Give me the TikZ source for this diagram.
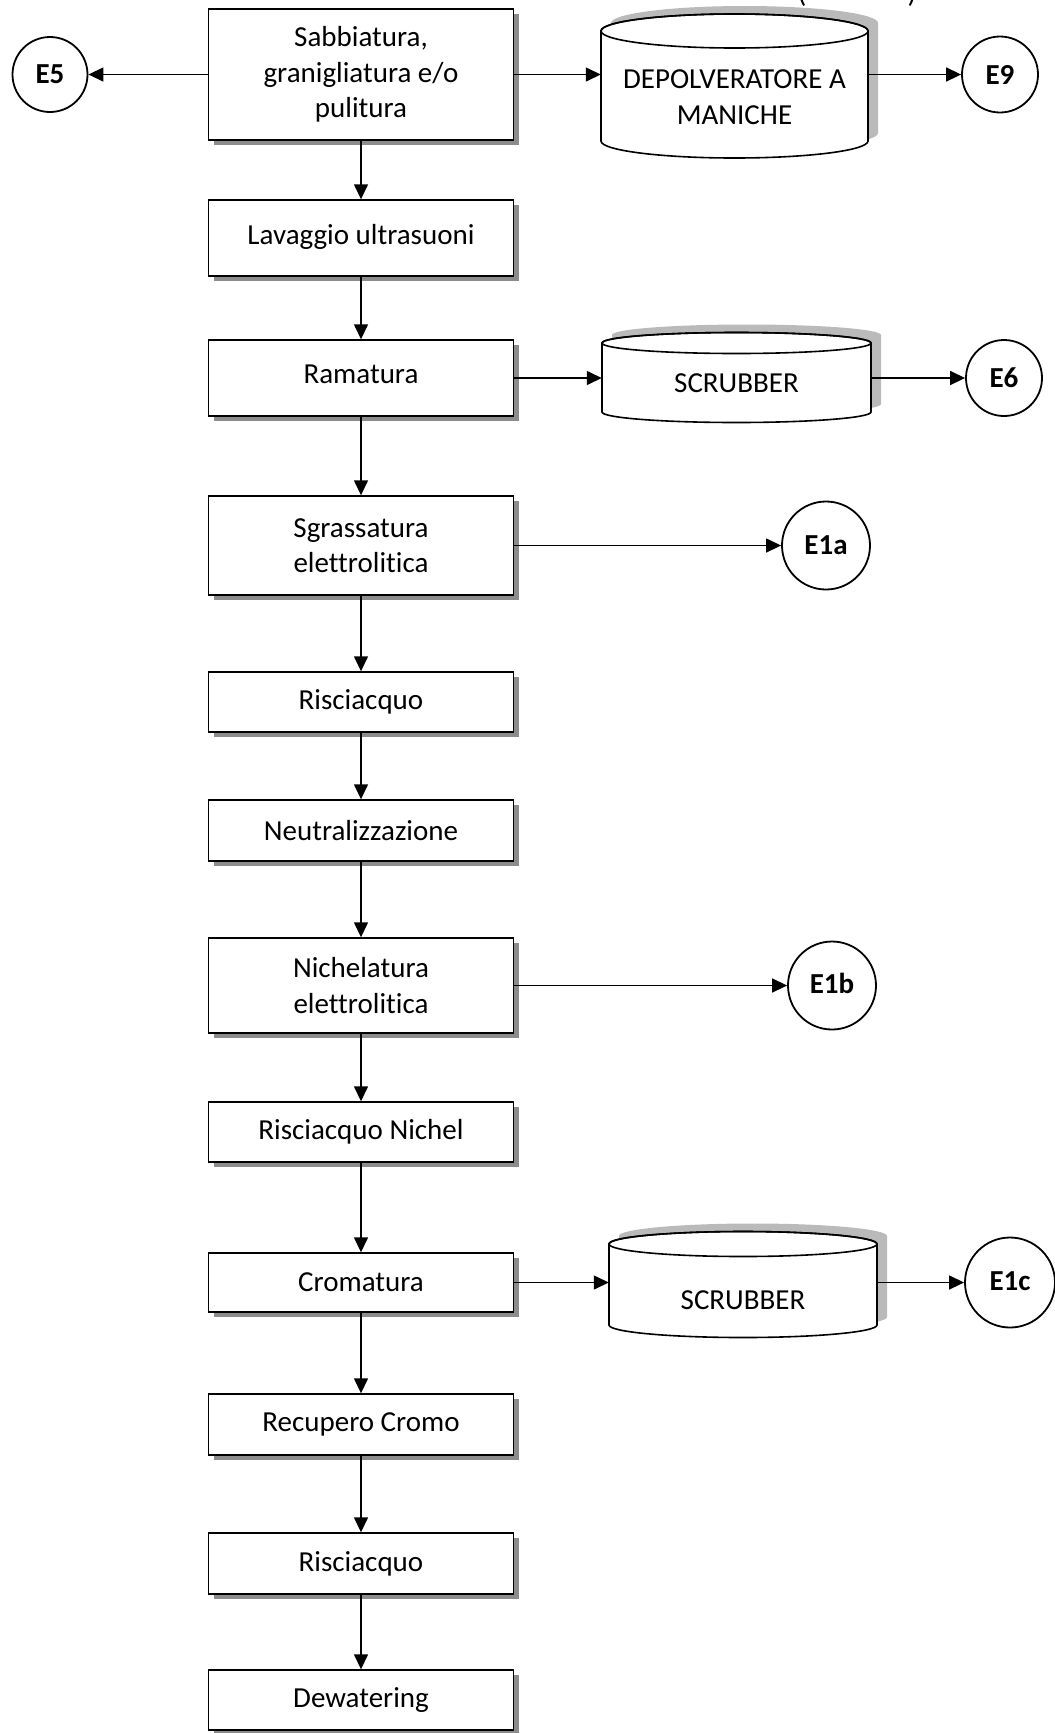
\documentclass[tikz,border=0pt]{standalone}
\usepackage{fontspec}
\setmainfont{Carlito}[Ligatures={NoCommon,NoContextual},Contextuals={NoAlternate}]
\usetikzlibrary{arrows.meta,shadows}

% Drum-shaped unit (abatement device) with a light shadow behind it.
% #1 name, #2 left x, #3 right x, #4 top-ellipse centre y, #5 bottom-ellipse centre y,
% #6 half-height of the end ellipses, #7 text centre y, #8 text
\newcommand\drumunit[8]{%
  \pgfmathsetmacro\drumrx{(#3-#2)/2}%
  \pgfmathsetmacro\drumcx{(#3+#2)/2}%
  \pgfmathsetmacro\drumw{#3-#2}%
  \fill[drumshade,shift={(10,8)}] (#2,-#4) -- (#2,-#5)
     arc[start angle=180,end angle=360,x radius=\drumrx,y radius=#6] -- (#3,-#4)
     arc[start angle=0,end angle=180,x radius=\drumrx,y radius=#6] -- cycle;
  \draw[drumline,fill=white] (#2,-#4) -- (#2,-#5)
     arc[start angle=180,end angle=360,x radius=\drumrx,y radius=#6] -- (#3,-#4)
     arc[start angle=0,end angle=180,x radius=\drumrx,y radius=#6] -- cycle;
  \draw[drumline] (\drumcx,-#4) ellipse[x radius=\drumrx,y radius=#6];
  \node[inner sep=0pt,minimum width=\drumw pt,align=center] (#1) at (\drumcx,-#7) {#8};
}

\begin{document}
\begin{tikzpicture}[x=1pt,y=1pt,
  every node/.style={font=\fontsize{29}{35.5}\selectfont},
  stage/.style={draw, line width=1.4pt, fill=white, minimum width=305pt, inner sep=0pt, align=center,
     drop shadow={shadow xshift=5pt, shadow yshift=-5pt, fill=black!45, opacity=1}},
  outlet/.style={draw, circle, line width=1.8pt, inner sep=0pt, fill=white,
     font=\fontsize{29}{35.5}\selectfont\bfseries},
  flow/.style={line width=1.4pt, -{Triangle[length=15pt,width=14pt]}},
  drumshade/.style={fill=black!27},
  drumline/.style={line width=1.6pt}
]
\useasboundingbox (0,0) rectangle (1055,-1733);

% clipped remnant of a heading above the chart
\node[anchor=base,inner sep=0pt] (popen) at (802,-2) {(};
\node[anchor=base,inner sep=0pt] (pclose) at (912,-2) {)};

% process stages
\node[stage, minimum height=131pt] (sab) at (361,-74.5) {Sabbiatura,\\granigliatura e/o\\pulitura};
\node[stage, minimum height=76pt] (lav) at (361,-238) {\raisebox{8pt}{Lavaggio ultrasuoni}};
\node[stage, minimum height=76pt] (ram) at (361,-378) {\raisebox{8pt}{Ramatura}};
\node[stage, minimum height=99pt] (sgr) at (361,-545.5) {Sgrassatura\\elettrolitica};
\node[stage, minimum height=60pt] (ris1) at (361,-702) {Risciacquo};
\node[stage, minimum height=61pt] (neu) at (361,-830.5) {Neutralizzazione};
\node[stage, minimum height=95pt] (nic) at (361,-985.5) {Nichelatura\\elettrolitica};
\node[stage, minimum height=60pt] (risn) at (361,-1132) {Risciacquo Nichel};
\node[stage, minimum height=59pt] (cro) at (361,-1282.5) {Cromatura};
\node[stage, minimum height=61pt] (rec) at (361,-1424.5) {Recupero Cromo};
\node[stage, minimum height=61pt] (ris2) at (361,-1563.5) {Risciacquo};
\node[stage, minimum height=60pt] (dew) at (361,-1700) {Dewatering};

% abatement units
\drumunit{dep}{601}{868}{31}{141}{17}{97}{DEPOLVERATORE A\\MANICHE}
\drumunit{scra}{602}{871}{343}{412}{10.5}{383}{SCRUBBER}
\drumunit{scrb}{609}{877}{1244}{1325}{12.5}{1300}{SCRUBBER}

% emission points
\node[outlet, minimum size=75pt] (e5) at (50,-74.5) {E5};
\node[outlet, minimum size=76pt] (e9) at (1000,-74.5) {E9};
\node[outlet, minimum size=76pt] (e6) at (1004,-378) {E6};
\node[outlet, minimum size=88pt] (e1a) at (826,-545.5) {E1a};
\node[outlet, minimum size=88pt] (e1b) at (832,-985.5) {\raisebox{4pt}{E1b}};
\node[outlet, minimum size=90pt] (e1c) at (1010,-1282.5) {\raisebox{3pt}{E1c}};

% main line
\foreach \a/\b in {sab/lav, lav/ram, ram/sgr, sgr/ris1, ris1/neu, neu/nic,
                   nic/risn, risn/cro, cro/rec, rec/ris2, ris2/dew}
  \draw[flow] (\a) -- (\b);

% emissions
\draw[flow] (sab) -- (e5);
\draw[flow] (sab) -- (sab -| dep.west);
\draw[flow] (dep.east |- e9) -- (e9);
\draw[flow] (ram) -- (ram -| scra.west);
\draw[flow] (scra.east |- e6) -- (e6);
\draw[flow] (sgr) -- (e1a);
\draw[flow] (nic) -- (e1b);
\draw[flow] (cro) -- (cro -| scrb.west);
\draw[flow] (scrb.east |- e1c) -- (e1c);
\end{tikzpicture}
\end{document}
